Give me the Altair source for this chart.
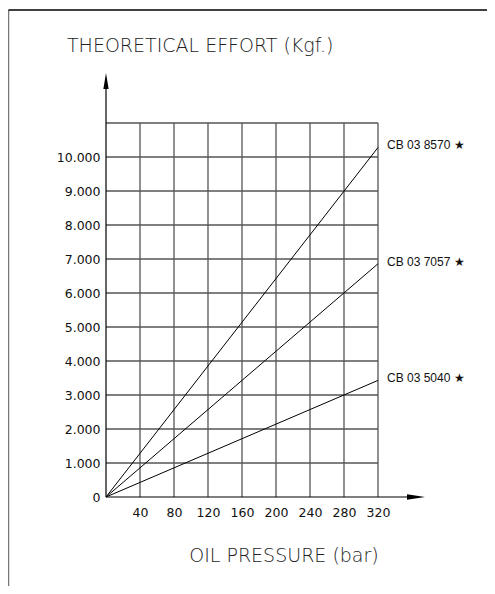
import altair as alt
import pandas as pd

# ---- data ----
pressure = [0, 320]                      # bar
models = ["CB 03 8570", "CB 03 7057", "CB 03 5040"]
effort_at_0 = [0, 0, 0]                  # Kgf at 0 bar
effort_at_320 = [10280, 6860, 3430]      # Kgf at 320 bar
x_ticks = [0, 40, 80, 120, 160, 200, 240, 280, 320]
y_ticks = [0, 1000, 2000, 3000, 4000, 5000, 6000, 7000, 8000, 9000, 10000, 11000]
y_title = "THEORETICAL EFFORT (Kgf.)"
x_title = "OIL PRESSURE (bar)"

rows = []
for m, e0, e1 in zip(models, effort_at_0, effort_at_320):
    rows.append({"model": m, "p": pressure[0], "e": e0})
    rows.append({"model": m, "p": pressure[1], "e": e1})
df = pd.DataFrame(rows)
ends = pd.DataFrame({"model": models, "p": [pressure[1]] * 3, "e": effort_at_320,
                     "label": [m + " \u2605" for m in models]})

W, H = 272, 374
xs = alt.Scale(domain=[0, 320], nice=False)
ys = alt.Scale(domain=[0, 11000], nice=False)

x_axis = alt.Axis(values=x_ticks, grid=False, domain=False, ticks=False, title=None,
                  labelExpr="datum.value == 0 ? '' : datum.label", labelOverlap=False,
                  labelFlush=False,
                  labelFont="DejaVu Sans", labelFontSize=12.5, labelColor="#111",
                  labelPadding=9)
y_axis = alt.Axis(values=y_ticks, grid=False, domain=False, ticks=False, title=None,
                  labelExpr="datum.value == 11000 ? '' : replace(format(datum.value, ','), ',', '.')",
                  labelOverlap=False, labelFlush=False,
                  labelFont="DejaVu Sans", labelFontSize=12.5, labelColor="#111",
                  labelPadding=6)

gx = alt.Chart(pd.DataFrame({"gx": x_ticks[1:]})).mark_rule(color="#555", strokeWidth=1.3).encode(
    x=alt.X("gx:Q", scale=xs, axis=x_axis), y=alt.value(0), y2=alt.value(H))
gy = alt.Chart(pd.DataFrame({"gy": y_ticks[1:]})).mark_rule(color="#555", strokeWidth=1.3).encode(
    y=alt.Y("gy:Q", scale=ys, axis=y_axis), x=alt.value(0), x2=alt.value(W))

base = alt.Chart(df)
lines = base.mark_line(color="black", strokeWidth=1).encode(
    x=alt.X("p:Q", scale=xs, axis=x_axis),
    y=alt.Y("e:Q", scale=ys, axis=y_axis),
    detail="model:N",
)

labels = alt.Chart(ends).mark_text(align="left", baseline="middle", dx=9, dy=-2,
                                   font="Liberation Sans", fontSize=12, color="#111").encode(
    x=alt.X("p:Q", scale=xs, axis=x_axis), y=alt.Y("e:Q", scale=ys, axis=y_axis), text="label:N")

one = pd.DataFrame({"k": [0]})
deco = alt.Chart(one)
y_line = deco.mark_rule(color="black", strokeWidth=1.2).encode(
    x=alt.value(0), y=alt.value(-44), y2=alt.value(H))
x_line = deco.mark_rule(color="black", strokeWidth=1.2).encode(
    y=alt.value(H), x=alt.value(0), x2=alt.value(310))
y_arrow = deco.mark_point(shape="M0,-1L0.33,1L-0.33,1Z", filled=True, color="black",
                          size=256, opacity=1).encode(x=alt.value(0), y=alt.value(-42))
x_arrow = deco.mark_point(shape="M1,0L-1,0.3L-1,-0.3Z", filled=True, color="black",
                          size=324, opacity=1).encode(x=alt.value(310), y=alt.value(H))
frame_left = deco.mark_rule(color="#777", strokeWidth=1.5).encode(
    x=alt.value(-97.5), y=alt.value(-113), y2=alt.value(480))
frame_top = deco.mark_rule(color="black", strokeWidth=1.3).encode(
    y=alt.value(-113), x=alt.value(-97.5), x2=alt.value(400))

t1 = deco.mark_text(text=y_title, align="left", baseline="alphabetic", font="DejaVu Sans",
                    fontSize=19, fontWeight=200, color="#222").encode(
    x=alt.value(-39), y=alt.value(-71))
t2 = deco.mark_text(text=x_title, align="center", baseline="alphabetic", font="DejaVu Sans",
                    fontSize=19, fontWeight=200, color="#222").encode(
    x=alt.value(178), y=alt.value(439))

chart = alt.layer(gx, gy, lines, labels, y_line, x_line, y_arrow, x_arrow,
                  frame_left, frame_top, t1, t2).properties(
    width=W, height=H,
    autosize=alt.AutoSizeParams(type="none"),
    padding={"left": 98, "top": 115, "right": 109, "bottom": 89},
).configure_view(stroke=None).configure_axis(labelOverlap=False)

chart.save("out.html", embed_options={"renderer": "svg", "actions": False})
